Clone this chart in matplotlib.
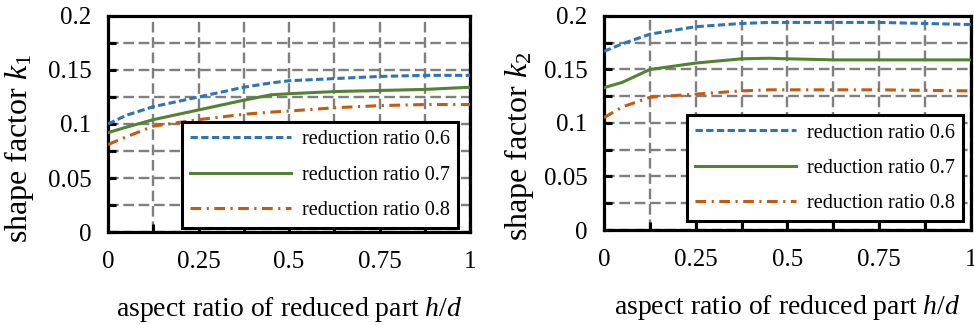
import numpy as np
import matplotlib
matplotlib.use("Agg")
import matplotlib.pyplot as plt
from matplotlib.ticker import MultipleLocator

plt.rcParams['font.family'] = ['Liberation Serif', 'DejaVu Serif']
plt.rcParams['mathtext.fontset'] = 'custom'
plt.rcParams['mathtext.rm'] = 'Liberation Serif'
plt.rcParams['mathtext.it'] = 'Liberation Serif:italic'

# aspect ratio h/d
x = [0, 0.05, 0.125, 0.25, 0.375, 0.45, 0.5, 0.625, 0.75, 0.875, 1]

# shape factor k1
k1_06 = [0.100, 0.108, 0.116, 0.125, 0.134, 0.138, 0.140, 0.142, 0.144, 0.145, 0.145]
k1_07 = [0.092, 0.097, 0.104, 0.113, 0.122, 0.127, 0.128, 0.130, 0.131, 0.132, 0.134]
k1_08 = [0.081, 0.088, 0.098, 0.104, 0.109, 0.111, 0.112, 0.115, 0.117, 0.118, 0.118]

# shape factor k2
k2_06 = [0.167, 0.174, 0.183, 0.190, 0.193, 0.194, 0.194, 0.194, 0.194, 0.193, 0.192]
k2_07 = [0.133, 0.138, 0.150, 0.156, 0.160, 0.1605, 0.160, 0.159, 0.159, 0.159, 0.159]
k2_08 = [0.105, 0.115, 0.124, 0.127, 0.130, 0.131, 0.131, 0.131, 0.131, 0.1305, 0.130]

labels = ['reduction ratio 0.6', 'reduction ratio 0.7', 'reduction ratio 0.8']
colors = ['#2E75B6', '#548235', '#C55A11']
styles = [(0, (2.4, 1.1)), '-', (0, (3.5, 1.8, 0.7, 1.8))]

fig = plt.figure(figsize=(9.74, 3.25), dpi=100)
ax1 = fig.add_axes([0.1109, 0.286, 0.3717, 0.665])
ax2 = fig.add_axes([0.6201, 0.2923, 0.3768, 0.6585])

panels = [
    (ax1, [k1_06, k1_07, k1_08], r'shape factor $k_{\mathit{1}}$', (-0.20, 0.39), -0.292, (0.967, 0.019)),
    (ax2, [k2_06, k2_07, k2_08], r'shape factor $k_{2}$', (-0.185, 0.39), -0.294, (0.978, 0.042)),
]

for ax, series, ylab, ycoords, xly, legpos in panels:
    for ys, lab, c, ls in zip(series, labels, colors, styles):
        ax.plot(x, ys, color=c, linestyle=ls, linewidth=2.2, label=lab, zorder=3)
    ax.set_xlim(0, 1)
    ax.set_ylim(0, 0.2)
    ax.xaxis.set_minor_locator(MultipleLocator(0.125))
    ax.yaxis.set_minor_locator(MultipleLocator(0.025))
    ax.set_xticks([0, 0.25, 0.5, 0.75, 1])
    ax.set_xticklabels(['0', '0.25', '0.5', '0.75', '1'])
    ax.set_yticks([0, 0.05, 0.1, 0.15, 0.2])
    ax.set_yticklabels(['0', '0.05', '0.1', '0.15', '0.2'])
    ax.grid(which='both', color='#7f7f7f', linestyle=(0, (4.5, 2)), linewidth=1.7, zorder=1)
    ax.set_axisbelow(True)
    ax.tick_params(which='both', direction='in', length=6, width=2.2, labelsize=18,
                   top=False, right=False)
    ax.tick_params(axis='x', which='both', pad=14)
    ax.tick_params(axis='y', which='both', pad=12)
    for sp in ax.spines.values():
        sp.set_linewidth(2.3)
        sp.set_color('black')
    ax.set_ylabel(ylab, fontsize=23)
    ax.yaxis.set_label_coords(*ycoords)
    ax.set_xlabel(r'aspect ratio of reduced part $h/d$', fontsize=20)
    ax.xaxis.set_label_coords(0.5, xly)
    leg = ax.legend(loc='lower right', bbox_to_anchor=legpos, fontsize=14.5,
                    frameon=True, fancybox=False, edgecolor='black', framealpha=1,
                    handlelength=5.0, handletextpad=0.55, labelspacing=0.8,
                    borderaxespad=0, borderpad=0.4)
    leg.get_frame().set_linewidth(2.2)
    leg.set_zorder(5)

fig.savefig('out.png', dpi=100)
